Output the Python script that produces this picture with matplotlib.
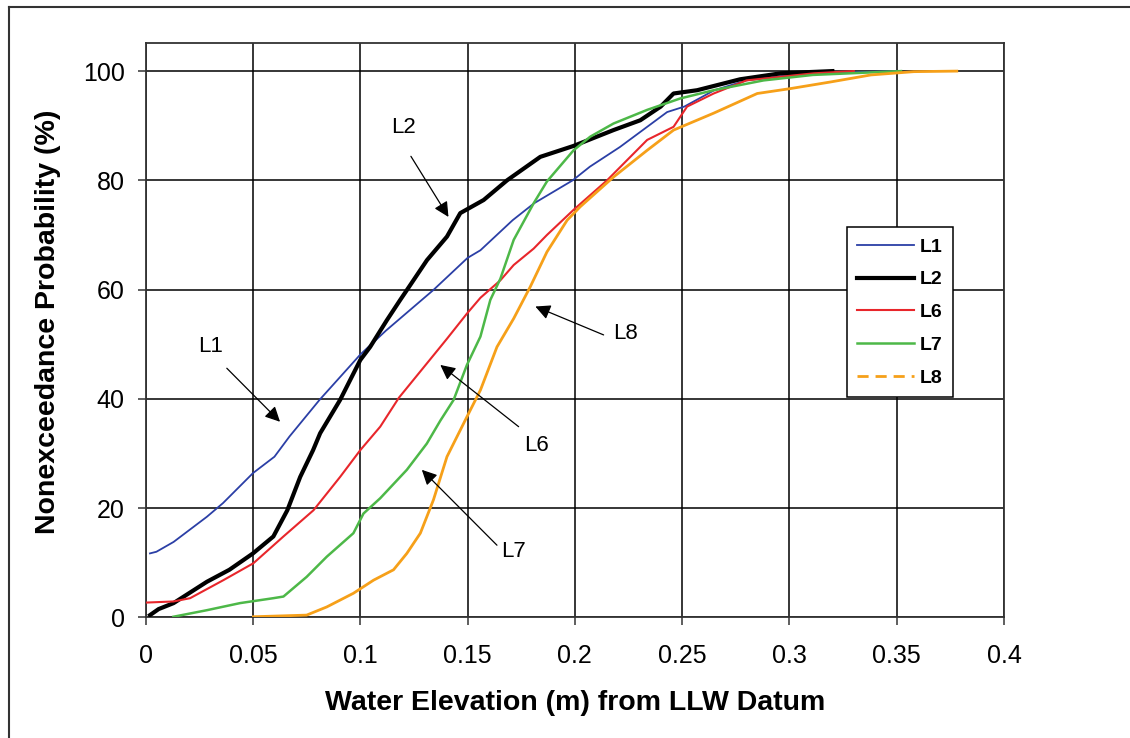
import matplotlib
matplotlib.use("Agg")
import matplotlib.pyplot as plt
from matplotlib.lines import Line2D

plt.rcParams['font.family'] = ['Liberation Sans', 'DejaVu Sans']

# ---- data ----
L1_x = [0.002, 0.005, 0.013, 0.0285, 0.036, 0.050, 0.060, 0.067, 0.081, 0.100, 0.112, 0.134, 0.150, 0.156,
        0.171, 0.181, 0.199, 0.207, 0.221, 0.243, 0.251, 0.265, 0.280, 0.300, 0.330, 0.350]
L1_y = [11.7, 12.0, 13.8, 18.4, 20.9, 26.4, 29.4, 33.1, 39.8, 48.1, 52.5, 59.9, 65.8, 67.2,
        72.7, 75.8, 80.0, 82.5, 86.1, 92.5, 93.5, 96.5, 98.3, 99.3, 99.8, 100.0]

L2_x = [0.002, 0.006, 0.013, 0.0285, 0.039, 0.050, 0.0595, 0.066, 0.072, 0.078, 0.0813, 0.0906, 0.100,
        0.1046, 0.1124, 0.1186, 0.1217, 0.1311, 0.1404, 0.1466, 0.1575, 0.1684, 0.1839, 0.1994, 0.2026,
        0.218, 0.2305, 0.240, 0.246, 0.257, 0.277, 0.296, 0.320]
L2_y = [0.4, 1.5, 2.6, 6.5, 8.7, 11.7, 14.8, 19.6, 25.7, 30.6, 33.7, 39.8, 47.1,
        49.5, 54.4, 58.1, 59.9, 65.4, 69.7, 74.0, 76.4, 80.0, 84.3, 86.3, 86.8,
        89.2, 91.0, 93.5, 95.9, 96.5, 98.5, 99.6, 100.0]

L6_x = [0.0005, 0.013, 0.0207, 0.0362, 0.0502, 0.0642, 0.0782, 0.0906, 0.100, 0.1093, 0.118, 0.1373,
        0.1404, 0.1497, 0.156, 0.1653, 0.1715, 0.1808, 0.187, 0.1994, 0.215, 0.2337, 0.246, 0.2523,
        0.2647, 0.280, 0.3114, 0.330]
L6_y = [2.7, 2.9, 3.5, 6.8, 9.9, 14.8, 19.6, 25.7, 30.6, 34.9, 40.2, 49.5,
        51.0, 55.6, 58.5, 61.7, 64.5, 67.5, 70.0, 74.6, 80.0, 87.4, 89.8, 93.5,
        95.9, 98.3, 99.6, 100.0]

L7_x = [0.0129, 0.0285, 0.044, 0.0595, 0.0642, 0.075, 0.0844, 0.0968, 0.1015, 0.1093, 0.1217, 0.131,
        0.1373, 0.1435, 0.1497, 0.156, 0.1606, 0.1653, 0.1715, 0.1808, 0.187, 0.1994, 0.2072, 0.218,
        0.2337, 0.2492, 0.2647, 0.288, 0.311, 0.352]
L7_y = [0.1, 1.3, 2.6, 3.5, 3.8, 7.4, 11.1, 15.4, 19.0, 21.8, 27.0, 31.8,
        36.0, 39.8, 46.2, 51.4, 58.1, 62.0, 69.1, 75.8, 79.8, 85.5, 88.0, 90.4,
        92.9, 95.0, 96.5, 98.3, 99.3, 100.0]

L8_x = [0.0502, 0.075, 0.0844, 0.0968, 0.1062, 0.1155, 0.1217, 0.128, 0.1341, 0.1404, 0.1497, 0.156,
        0.1637, 0.1715, 0.1792, 0.187, 0.1964, 0.2026, 0.218, 0.2337, 0.246, 0.2647, 0.285, 0.3005,
        0.319, 0.338, 0.358, 0.378]
L8_y = [0.1, 0.4, 1.9, 4.4, 6.8, 8.7, 11.7, 15.4, 21.5, 29.4, 36.7, 41.6,
        49.5, 54.7, 60.5, 66.9, 72.7, 75.2, 80.6, 85.5, 89.2, 92.3, 95.9, 96.8,
        98.0, 99.3, 99.9, 100.0]

x_ticks = [0, 0.05, 0.1, 0.15, 0.2, 0.25, 0.3, 0.35, 0.4]
x_tick_labels = ["0", "0.05", "0.1", "0.15", "0.2", "0.25", "0.3", "0.35", "0.4"]
y_ticks = [0, 20, 40, 60, 80, 100]

# annotations: label, text position, arrow tail, arrow tip (data coords)
ann_labels = ["L1", "L2", "L6", "L7", "L8"]
ann_text = [(0.0301, 49.5), (0.120, 89.6), (0.182, 31.5), (0.1714, 12.1), (0.2236, 52.0)]
ann_tail = [(0.0378, 45.6), (0.1236, 84.4), (0.1738, 34.9), (0.1637, 13.2), (0.2134, 51.7)]
ann_tip = [(0.0626, 35.8), (0.1411, 73.3), (0.1373, 46.2), (0.1287, 27.0), (0.1816, 56.9)]

# ---- figure ----
W, H = 1130, 738
fig = plt.figure(figsize=(W / 100, H / 100), dpi=100)
ax = fig.add_axes([145.7 / W, 1 - 617.3 / H, (1004 - 145.7) / W, (617.3 - 42.7) / H])

c_blue = '#2B3FA6'
c_red = '#E8262B'
c_green = '#4DB848'
c_orange = '#F6A019'

ax.plot(L1_x, L1_y, color=c_blue, lw=1.3, zorder=3)
ax.plot(L2_x, L2_y, color='black', lw=3.0, zorder=3)
ax.plot(L6_x, L6_y, color=c_red, lw=1.5, zorder=3)
ax.plot(L7_x, L7_y, color=c_green, lw=1.8, zorder=3)
ax.plot(L8_x, L8_y, color=c_orange, lw=2.0, zorder=3)

ax.set_xlim(0, 0.4)
ax.set_ylim(0, 105.2)
ax.set_xticks(x_ticks)
ax.set_xticklabels(x_tick_labels)
ax.set_yticks(y_ticks)
ax.grid(True, color='black', lw=1.1)
ax.set_axisbelow(True)
for s in ax.spines.values():
    s.set_color('#333333')
    s.set_linewidth(1.3)
ax.tick_params(axis='both', direction='out', length=6, width=1.1, color='#333333',
               labelsize=18, labelcolor='black')
ax.tick_params(axis='x', pad=13)
ax.tick_params(axis='y', pad=9)

ax.set_xlabel("Water Elevation (m) from LLW Datum", fontsize=20.5, fontweight='bold')
ax.set_ylabel("Nonexceedance Probability (%)", fontsize=20.5, fontweight='bold')
ax.xaxis.label.set_va('center')
ax.yaxis.label.set_va('center')
ax.xaxis.set_label_coords(0.5006, (617.3 - 703) / 574.6)
ax.yaxis.set_label_coords((48 - 145.7) / 858.3, (617.3 - 322) / 574.6)

for lab, t, a, b in zip(ann_labels, ann_text, ann_tail, ann_tip):
    ax.text(t[0], t[1], lab, fontsize=16, ha='center', va='center', zorder=5)
    ax.annotate("", xy=b, xytext=a,
                arrowprops=dict(arrowstyle='-|>,head_length=0.9,head_width=0.45',
                                color='black', lw=0.9, shrinkA=0, shrinkB=0),
                zorder=5)

handles = [Line2D([], [], color=c_blue, lw=1.3),
           Line2D([], [], color='black', lw=3.0),
           Line2D([], [], color=c_red, lw=1.5),
           Line2D([], [], color=c_green, lw=1.8),
           Line2D([], [], color=c_orange, lw=2.0, dashes=(4, 2.5))]
leg = ax.legend(handles, ["L1", "L2", "L6", "L7", "L8"], loc='upper left',
                bbox_to_anchor=((846.7 - 145.7) / 858.3, (617.3 - 227.3) / 574.6),
                borderaxespad=0, fancybox=False, framealpha=1, edgecolor='black',
                prop={'size': 14, 'weight': 'bold'}, handlelength=2.9,
                handletextpad=0.3, labelspacing=0.78, borderpad=0.55)
leg.get_frame().set_linewidth(1.1)
leg.set_zorder(6)

# outer figure border (left and top visible)
fig.add_artist(Line2D([9 / W, 9 / W], [0, 1 - 7 / H], transform=fig.transFigure, color='#333333', lw=1.5))
fig.add_artist(Line2D([9 / W, 1], [1 - 7 / H, 1 - 7 / H], transform=fig.transFigure, color='#333333', lw=1.5))

fig.savefig("out.png", dpi=100)
